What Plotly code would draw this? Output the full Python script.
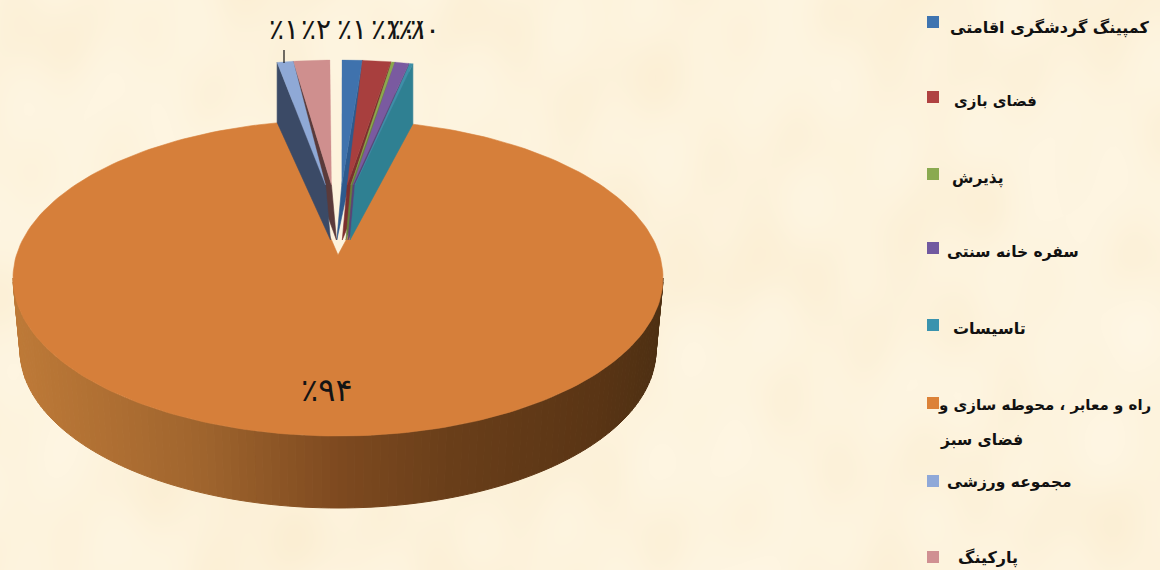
import numpy as np
import plotly.graph_objects as go

# Share of each land use, in percent, clockwise from twelve o'clock
categories = [
    "کمپینگ گردشگری اقامتی",
    "فضای بازی",
    "پذیرش",
    "سفره خانه سنتی",
    "تاسیسات",
    "راه و معابر ، محوطه سازی و",
    "مجموعه ورزشی",
    "پارکینگ",
]
category_second_line = "فضای سبز"
values = [1.0, 1.4, 0.2, 0.7, 0.2, 93.7, 0.8, 1.8]
top_colors = ["#3f72ad", "#a83f3e", "#8aa84e", "#7a5aa0", "#3e8fa8", "#d67f3a", "#8fa9d6", "#cf8f8e"]
wall_colors = ["#2d5a8e", "#7c2f2e", "#66803a", "#5a4278", "#2f8092", "#d67f3a", "#3b4a66", "#5a3a3a"]
legend_colors = ["#3f74b0", "#b04241", "#8aaa50", "#7159a0", "#3a93ae", "#dc8238", "#8fa8d8", "#d09092"]

# Pie projection, in page pixels
CX, CY, RX, RY = 338, 278, 325, 158
HUB_Y = 255
DEPTH, BOTTOM_RX = 72, 318
RISE, LIFT, SPREAD, GAP, TIP_GAP, TIP_IN = 60, 70, 73, 4, 1.5, 5
WALL_OUTER, WALL_TIP = 60, 55

# Side wall tint, left to right
SIDE_X = [13, 200, 338, 450, 600, 663]
SIDE_R = [190, 160, 126, 106, 90, 78]
SIDE_G = [122, 101, 74, 63, 53, 48]
SIDE_B = [56, 46, 32, 26, 21, 19]

PERSIAN_DIGITS = "۰۱۲۳۴۵۶۷۸۹"


def persian_percent(v):
    return "٪" + "".join(PERSIAN_DIGITS[int(c)] for c in str(int(round(v))))


def arc(theta_deg):
    t = np.radians(theta_deg)
    return CX + RX * np.sin(t), CY - RY * np.cos(t)


def polygon(xs, ys, color, line=0.6):
    return go.Scatter(
        x=list(xs), y=list(ys), mode="lines", fill="toself", fillcolor=color,
        line=dict(color=color, width=line), hoverinfo="skip", showlegend=False,
    )


fig = go.Figure()

# Parchment backdrop: many crossing waves so no single direction shows
gx = np.linspace(0, 1160, 233)
gy = np.linspace(0, 570, 115)
X, Y = np.meshgrid(gx, gy)
paper = np.zeros_like(X)
wave_periods = [11.3, 14.9, 17.7, 21.1, 26.3, 31.9, 39.7, 53.3, 71.1, 97.3]
wave_angles = [17, 143, 71, 109, 37, 163, 89, 5, 127, 53]
wave_phases = [0.3, 2.1, 4.4, 1.2, 5.6, 3.3, 0.9, 2.8, 4.9, 1.7]
for period, angle, phase in zip(wave_periods, wave_angles, wave_phases):
    rad = np.radians(angle)
    paper += np.sin((X * np.cos(rad) + Y * np.sin(rad)) / period + phase)
fig.add_trace(go.Heatmap(
    x=gx, y=gy, z=paper, zsmooth="best", showscale=False, hoverinfo="skip",
    colorscale=[[0, "#fef6e4"], [0.5, "#fdf3dd"], [1, "#fbeed3"]],
))

edges = np.concatenate([[0], np.cumsum(values)]) * 3.6
orange = int(np.argmax(values))

# Rim of the large slice, drawn as thin strips for the shading
steps = np.arange(90, 270, 1.5)
for a in steps:
    b = a + 1.5
    xa, ya = arc(a)
    xb, yb = arc(b)
    ta, tb = np.radians(a), np.radians(b)
    qax, qay = CX + BOTTOM_RX * np.sin(ta), CY + DEPTH - RY * np.cos(ta)
    qbx, qby = CX + BOTTOM_RX * np.sin(tb), CY + DEPTH - RY * np.cos(tb)
    mid_x = (xa + xb) / 2
    tint = "rgb(%d,%d,%d)" % (
        np.interp(mid_x, SIDE_X, SIDE_R),
        np.interp(mid_x, SIDE_X, SIDE_G),
        np.interp(mid_x, SIDE_X, SIDE_B),
    )
    fig.add_trace(polygon([xa, xb, qbx, qax, xa], [ya, yb, qby, qay, ya], tint, 1))

# Top of the large slice
th = np.linspace(edges[orange], edges[orange + 1], 240)
ox, oy = arc(th)
fig.add_trace(polygon(
    np.r_[CX, ox, CX], np.r_[HUB_Y, oy, HUB_Y], top_colors[orange],
))


def small_slice(i):
    start, end = edges[i], edges[i + 1]
    signed_mid = (start + end) / 2
    if signed_mid > 180:
        signed_mid -= 360
    side = 1 if signed_mid > 0 else -1
    tip_x = CX + side * TIP_GAP + SPREAD * np.sin(np.radians(signed_mid))
    tip_y = HUB_Y - LIFT
    t = np.linspace(start, end, 12)
    ax, ay = arc(t)
    ax = ax + side * GAP
    ay = ay - RISE
    # the radial wall that faces the viewer is on the side away from twelve o'clock
    ex, ey = (ax[-1], ay[-1]) if side > 0 else (ax[0], ay[0])
    low_x = tip_x - side * TIP_IN
    fig.add_trace(polygon(
        [tip_x, ex, ex, low_x, tip_x],
        [tip_y, ey, ey + WALL_OUTER, tip_y + WALL_TIP, tip_y],
        wall_colors[i],
    ))
    fig.add_trace(polygon(
        np.r_[tip_x, ax, tip_x], np.r_[tip_y, ay, tip_y], top_colors[i], 0.3,
    ))


# Back to front on each side of twelve o'clock
for i in [0, 1, 2, 3, 4, 7, 6]:
    small_slice(i)

# Leader from the sports label to its slice
fig.add_trace(go.Scatter(
    x=[284, 284], y=[50, 63], mode="lines", line=dict(color="#111", width=1.2),
    hoverinfo="skip", showlegend=False,
))

# Percent labels
label_at = {6: 284, 7: 316, 0: 352, 1: 386, 2: 401, 3: 413, 4: 425}
annotations = []
for i, px in label_at.items():
    annotations.append(dict(
        x=px, y=29, xref="x", yref="y", text=persian_percent(values[i]),
        showarrow=False, xanchor="center", yanchor="middle",
        font=dict(family="DejaVu Sans", size=28, color="#141414"),
    ))
annotations.append(dict(
    x=327, y=390, xref="x", yref="y", text=persian_percent(values[orange]),
    showarrow=False, xanchor="center", yanchor="middle",
    font=dict(family="DejaVu Sans", size=32, color="#141414"),
))

# Legend column
legend_y = [22, 97, 174, 248, 325, 403, 481, 557]
text_y = [28, 101, 178, 252, 328, 405, 482, 558]
text_right = [1152, 1039, 1006, 1081, 1028, 1153, 1074, 1020]
text_size = [16, 15, 15.5, 15.5, 16, 15, 15.5, 16]


def legend_text(text, right, y, size):
    return dict(
        x=right, y=y, xref="x", yref="y", text="<b>" + text + "</b>",
        showarrow=False, xanchor="right", yanchor="middle",
        font=dict(family="DejaVu Sans", size=size, color="#111"),
    )


fig.add_trace(go.Scatter(
    x=[933] * len(categories), y=legend_y, mode="markers",
    marker=dict(symbol="square", size=12, color=legend_colors, line=dict(width=0)),
    hoverinfo="skip", showlegend=False,
))
for name, right, ty, size in zip(categories, text_right, text_y, text_size):
    annotations.append(legend_text(name, right, ty, size))
annotations.append(legend_text(category_second_line, 1025, 440, 15.5))

fig.update_layout(
    width=1160, height=570, margin=dict(l=0, r=0, t=0, b=0),
    paper_bgcolor="#fdf3dd", plot_bgcolor="#fdf3dd",
    xaxis=dict(range=[0, 1160], visible=False, fixedrange=True),
    yaxis=dict(range=[570, 0], visible=False, fixedrange=True),
    annotations=annotations, showlegend=False,
)
fig.write_html("out.html")
